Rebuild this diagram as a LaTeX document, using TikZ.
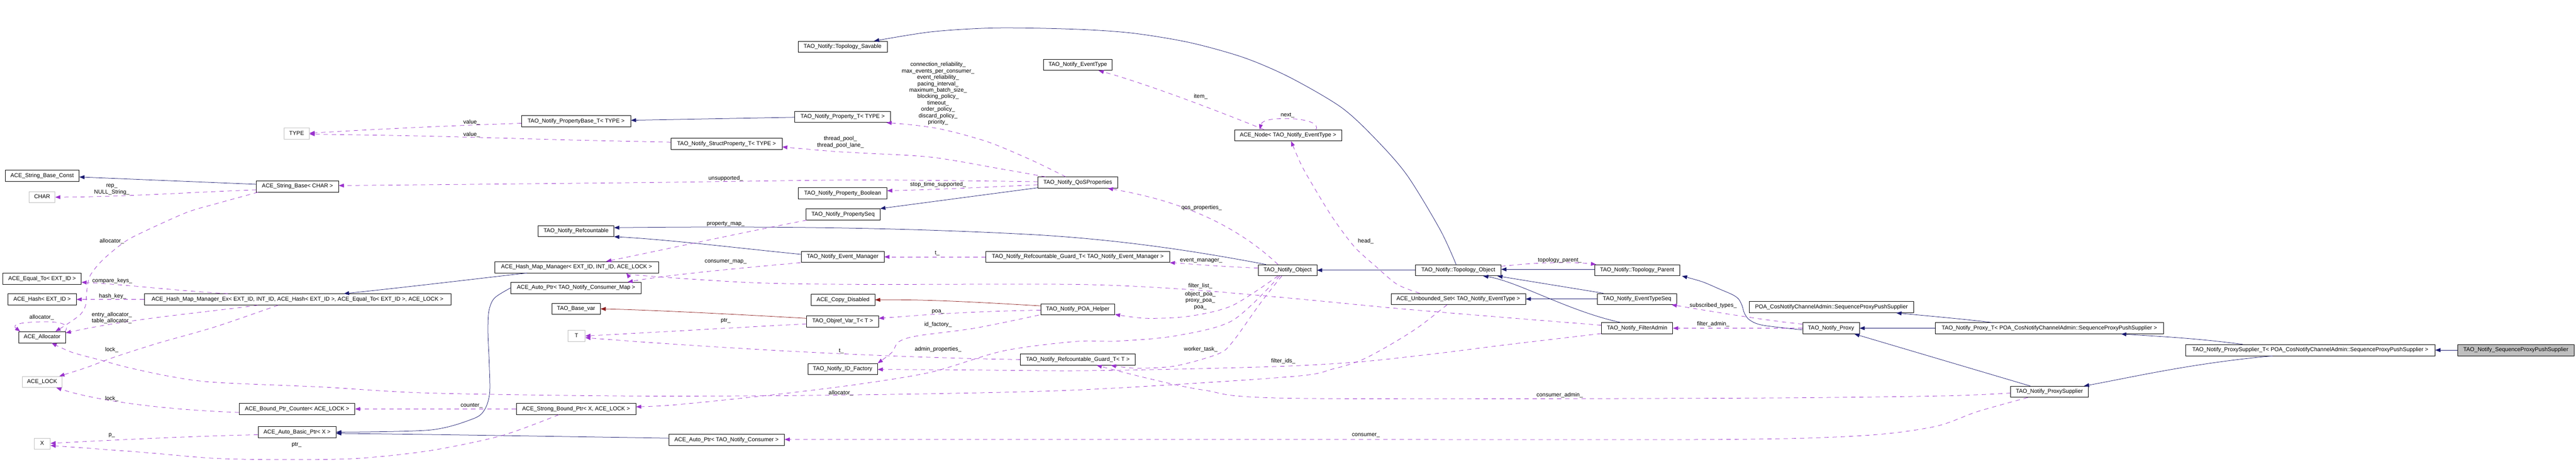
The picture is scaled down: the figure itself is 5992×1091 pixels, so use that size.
\documentclass[tikz,border=0pt]{standalone}
\usepackage{fontspec}
\setmainfont{Liberation Sans}
\usetikzlibrary{arrows.meta,calc}
\definecolor{inhc}{HTML}{191970}
\definecolor{prc}{HTML}{8B1A1A}
\definecolor{usec}{HTML}{9A32CD}
\definecolor{grayb}{HTML}{BFBFBF}
\begin{document}
\begin{tikzpicture}[x=1pt,y=-1pt,
  font=\fontsize{13.1}{14.9}\selectfont,
  cls/.style={draw=black, line width=0.9pt, minimum height=26pt, inner sep=0pt, text height=9.5pt, text depth=3pt},
  extcls/.style={cls, draw=grayb},
  maincls/.style={cls, fill=grayb},
  inh/.style={draw=inhc, line width=0.9pt, -{Triangle[length=12pt,width=9pt]}},
  prot/.style={draw=prc, line width=0.9pt, -{Triangle[length=12pt,width=9pt]}},
  usage/.style={draw=usec, line width=0.9pt, dash pattern=on 10pt off 9pt, -{Triangle[length=12pt,width=9pt]}},
  lbl/.style={inner sep=0pt, align=center}]
\fill[white] (0,0) rectangle (5992,1091);
% ---------- nodes ----------
\node[cls, minimum width=172pt] (strbc) at (98,409) {ACE\_String\_Base\_Const};
\node[extcls, minimum width=60pt] (charn) at (98,459) {CHAR};
\node[cls, minimum width=182pt] (eqto) at (98,649) {ACE\_Equal\_To< EXT\_ID >};
\node[cls, minimum width=159pt] (hash) at (98,697) {ACE\_Hash< EXT\_ID >};
\node[cls, minimum width=109pt] (alloc) at (98,785) {ACE\_Allocator};
\node[extcls, minimum width=93pt] (lock) at (98,889) {ACE\_LOCK};
\node[extcls, minimum width=38pt] (xn) at (98,1033) {X};
\node[cls, minimum width=713pt] (hmmex) at (692,697) {ACE\_Hash\_Map\_Manager\_Ex< EXT\_ID, INT\_ID, ACE\_Hash< EXT\_ID >, ACE\_Equal\_To< EXT\_ID >, ACE\_LOCK >};
\node[extcls, minimum width=59pt] (typen) at (690,311) {TYPE};
\node[cls, minimum width=191pt] (strb) at (692,434) {ACE\_String\_Base< CHAR >};
\node[cls, minimum width=269pt] (bpc) at (691,952) {ACE\_Bound\_Ptr\_Counter< ACE\_LOCK >};
\node[cls, minimum width=181pt] (abp) at (691,1006) {ACE\_Auto\_Basic\_Ptr< X >};
\node[cls, minimum width=254pt] (pbase) at (1340,282) {TAO\_Notify\_PropertyBase\_T< TYPE >};
\node[cls, minimum width=176pt] (refc) at (1340,538) {TAO\_Notify\_Refcountable};
\node[cls, minimum width=381pt] (hmm) at (1341,622) {ACE\_Hash\_Map\_Manager< EXT\_ID, INT\_ID, ACE\_LOCK >};
\node[cls, minimum width=303pt] (apcm) at (1340,670) {ACE\_Auto\_Ptr< TAO\_Notify\_Consumer\_Map >};
\node[cls, minimum width=113pt] (basevar) at (1340,719) {TAO\_Base\_var};
\node[extcls, minimum width=40pt] (tn) at (1341,782) {T};
\node[cls, minimum width=278pt] (sbp) at (1340,952) {ACE\_Strong\_Bound\_Ptr< X, ACE\_LOCK >};
\node[cls, minimum width=207pt] (savable) at (1960,109) {TAO\_Notify::Topology\_Savable};
\node[cls, minimum width=223pt] (propt) at (1960,272) {TAO\_Notify\_Property\_T< TYPE >};
\node[cls, minimum width=258pt] (structp) at (1690,335) {TAO\_Notify\_StructProperty\_T< TYPE >};
\node[cls, minimum width=206pt] (propbool) at (1960,450) {TAO\_Notify\_Property\_Boolean};
\node[cls, minimum width=172pt] (propseq) at (1961,499) {TAO\_Notify\_PropertySeq};
\node[cls, minimum width=193pt] (evmgr) at (1960,598) {TAO\_Notify\_Event\_Manager};
\node[cls, minimum width=148pt] (copyd) at (1961,698) {ACE\_Copy\_Disabled};
\node[cls, minimum width=167pt] (objref) at (1960,748) {TAO\_Objref\_Var\_T< T >};
\node[cls, minimum width=162pt] (idfac) at (1960,859) {TAO\_Notify\_ID\_Factory};
\node[cls, minimum width=269pt] (apc) at (1690,1024) {ACE\_Auto\_Ptr< TAO\_Notify\_Consumer >};
\node[cls, minimum width=160pt] (evtype) at (2507,151) {TAO\_Notify\_EventType};
\node[cls, minimum width=185pt] (qos) at (2507,425) {TAO\_Notify\_QoSProperties};
\node[cls, minimum width=427pt] (guardem) at (2507,598) {TAO\_Notify\_Refcountable\_Guard\_T< TAO\_Notify\_Event\_Manager >};
\node[cls, minimum width=172pt] (poah) at (2507,720) {TAO\_Notify\_POA\_Helper};
\node[cls, minimum width=267pt] (guardt) at (2507,837) {TAO\_Notify\_Refcountable\_Guard\_T< T >};
\node[cls, minimum width=249pt] (node) at (2996,315) {ACE\_Node< TAO\_Notify\_EventType >};
\node[cls, minimum width=136pt] (obj) at (2995,629) {TAO\_Notify\_Object};
\node[cls, minimum width=199pt] (topobj) at (3392,629) {TAO\_Notify::Topology\_Object};
\node[cls, minimum width=313pt] (uset) at (3392,696) {ACE\_Unbounded\_Set< TAO\_Notify\_EventType >};
\node[cls, minimum width=198pt] (toppar) at (3808,629) {TAO\_Notify::Topology\_Parent};
\node[cls, minimum width=184pt] (etseq) at (3808,696) {TAO\_Notify\_EventTypeSeq};
\node[cls, minimum width=166pt] (fadmin) at (3808,764) {TAO\_Notify\_FilterAdmin};
\node[cls, minimum width=383pt] (poasps) at (4260,715) {POA\_CosNotifyChannelAdmin::SequenceProxyPushSupplier};
\node[cls, minimum width=132pt] (proxy) at (4259,764) {TAO\_Notify\_Proxy};
\node[cls, minimum width=531pt] (proxyt) at (4767,764) {TAO\_Notify\_Proxy\_T< POA\_CosNotifyChannelAdmin::SequenceProxyPushSupplier >};
\node[cls, minimum width=180pt] (psup) at (4767,912) {TAO\_Notify\_ProxySupplier};
\node[cls, minimum width=580pt] (psupt) at (5374,815) {TAO\_Notify\_ProxySupplier\_T< POA\_CosNotifyChannelAdmin::SequenceProxyPushSupplier >};
\node[maincls, minimum width=271pt] (seq) at (5852,815) {TAO\_Notify\_SequenceProxyPushSupplier};
% ---------- inheritance ----------
\draw[inh] ($(strb.west)+(0,-5)$) -- ($(strbc.east)+(0,3)$);
\draw[inh] ($(propt.west)+(0,1)$) -- ($(pbase.east)+(0,-2)$);
\draw[inh] ($(hmm.south west)+(76,0)$) .. controls (1100,650) and (950,668) .. ($(hmmex.north)+(108,0)$);
\draw[inh] ($(qos.west)+(0,12)$) -- (propseq.north east);
\draw[inh] ($(obj.north west)+(18,0)$) .. controls (2850,598) and (2650,560) .. (2400,546) .. controls (2100,530) and (1800,526) .. ($(refc.east)+(0,-8)$);
\draw[inh] ($(evmgr.west)+(0,-6)$) .. controls (1720,578) and (1560,558) .. ($(refc.east)+(0,13)$);
\draw[inh] plot[smooth] coordinates {($(topobj.north)+(-5,0)$) (3350,535) (3273,408) (3200,324) (3120,250) (3000,180) (2893,134) (2767,99) (2633,77) (2500,68) (2317,65) (2167,74) ($(savable.north east)+(-31,0)$)};
\draw[inh] (topobj.west) -- (obj.east);
\draw[inh] ($(toppar.west)+(0,-2)$) -- ($(topobj.east)+(0,-2)$);
\draw[inh] ($(etseq.north west)+(14,0)$) -- ($(topobj.south east)+(-9,0)$);
\draw[inh] ($(fadmin.north west)+(45,0)$) .. controls (3650,725) and (3530,655) .. ($(topobj.south east)+(-42,0)$);
\draw[inh] (etseq.west) -- (uset.east);
\draw[inh] plot[smooth] coordinates {($(proxy.west)+(0,4)$) (4100,757) (4070,745) (4058,730) (4052,711) (4044,696) (4030,686) (4000,673) (3960,656) ($(toppar.south east)+(5,0)$)};
\draw[inh] ($(proxyt.north west)+(132,0)$) .. controls (4560,742) and (4480,735) .. ($(poasps.south east)+(-41,0)$);
\draw[inh] (proxyt.west) -- (proxy.east);
\draw[inh] ($(psup.north west)+(46,0)$) -- ($(proxy.south east)+(-12,0)$);
\draw[inh] ($(psupt.north west)+(133,0)$) .. controls (5100,786) and (5000,782) .. ($(proxyt.south east)+(-99,0)$);
\draw[inh] ($(psupt.south west)+(203,0)$) .. controls (5100,845) and (4950,880) .. ($(psup.north east)+(-10,0)$);
\draw[inh] (seq.west) -- (psupt.east);
\draw[inh] plot[smooth] coordinates {(apcm.west) (1150,694) (1137,725) (1135,775) (1138,845) (1139,915) (1127,954) (1100,975) (1000,1001) ($(abp.east)+(0,0)$)};
\draw[inh] ($(apc.west)+(0,-4)$) .. controls (1300,1016) and (1000,1011) .. ($(abp.east)+(0,3)$);
% ---------- protected inheritance ----------
\draw[prot] ($(objref.west)+(0,-7)$) .. controls (1700,731) and (1500,721) .. (basevar.east);
\draw[prot] ($(poah.west)+(0,-8)$) .. controls (2250,702) and (2150,697) .. (copyd.east);
% ---------- usage ----------
\draw[usage] ($(strb.west)+(0,8)$) .. controls (450,447) and (300,458) .. (charn.east);
\draw[usage] plot[smooth] coordinates {($(strb.south west)+(4,0)$) (500,475) (433,495) (333,540) (290,563) (240,604) (210,641) (202,676) (199,711) (187,732) (157,754) ($(alloc.north east)+(-24,0)$)};
\draw[usage] ($(hmmex.north west)+(195,0)$) .. controls (400,676) and (300,663) .. ($(eqto.east)+(0,8)$);
\draw[usage] (hmmex.west) -- (hash.east);
\draw[usage] ($(hmmex.south west)+(265,0)$) .. controls (480,727) and (300,742) .. ($(alloc.east)+(0,-10)$);
\draw[usage] plot[smooth] coordinates {($(hmmex.south west)+(312,0)$) (500,761) (367,799) (267,831) (200,856) ($(lock.north east)+(-7,0)$)};
\draw[usage] ($(alloc.north east)+(-2,0)$) .. controls (165,755) and (140,748) .. (97,749) .. controls (50,750) and (25,755) .. ($(alloc.north west)+(4,0)$);
\draw[usage] plot[smooth] coordinates {($(uset.south west)+(131,0)$) (3300,761) (3233,803) (3167,838) (3100,859) (3000,877) (2500,908) (2000,919) (1500,922) (1000,915) (750,901) (500,890) (400,877) (300,856) (233,838) (167,820) ($(alloc.south west)+(77,0)$)};
\draw[usage] plot[smooth] coordinates {($(obj.south west)+(50,0)$) (2867,746) (2733,782) (2600,794) (2500,795) (2333,817) (2167,866) (2000,894) (1833,915) (1667,933) (1550,944) ($(sbp.east)+(0,-5)$)};
\draw[usage] plot[smooth] coordinates {($(obj.south west)+(55,0)$) (2933,704) (2867,796) (2833,824) (2733,852) (2640,857) ($(guardt.south east)+(-57,0)$)};
\draw[usage] plot[smooth] coordinates {($(obj.south west)+(46,0)$) (2867,711) (2767,736) (2667,741) ($(poah.east)+(0,12)$)};
\draw[usage] plot[smooth] coordinates {($(fadmin.west)+(0,-7)$) (3500,739) (3250,718) (3000,694) (2750,673) (2500,662) (2000,662) (1750,658) (1500,642) ($(hmm.south east)+(-75,0)$)};
\draw[usage] ($(propseq.south west)+(2,0)$) .. controls (1733,540) and (1550,580) .. ($(hmm.north east)+(-122,0)$);
\draw[usage] ($(evmgr.south west)+(-1,0)$) .. controls (1733,623) and (1550,640) .. ($(apcm.north east)+(-32,0)$);
\draw[usage] ($(objref.west)+(0,6)$) .. controls (1700,763) and (1500,775) .. (tn.east);
\draw[usage] (guardt.west) .. controls (2000,831) and (1600,805) .. ($(tn.east)+(0,4)$);
\draw[usage] (guardem.west) -- (evmgr.east);
\draw[usage] ($(poah.west)+(0,2)$) .. controls (2250,725) and (2150,733) .. ($(objref.east)+(0,-7)$);
\draw[usage] plot[smooth] coordinates {($(poah.south west)+(-4,0)$) (2267,764) (2133,782) (2090,796) (2075,820) (idfac.north east)};
\draw[usage] plot[smooth] coordinates {($(fadmin.south west)+(0,-1)$) (3500,803) (3333,824) (3167,842) (3000,852) (2750,859) (2500,863) (2233,861) ($(idfac.east)+(0,1)$)};
\draw[usage] (sbp.west) -- (bpc.east);
\draw[usage] ($(bpc.west)+(0,8)$) .. controls (400,955) and (230,935) .. ($(lock.south east)+(-14,0)$);
\draw[usage] ($(abp.west)+(0,6)$) .. controls (450,1015) and (250,1025) .. ($(xn.east)+(0,-1)$);
\draw[usage] plot[smooth] coordinates {($(sbp.south west)+(99,0)$) (1167,1014) (1000,1049) (833,1067) (667,1070) (500,1067) (333,1053) ($(xn.east)+(0,4)$)};
\draw[usage] plot[smooth] coordinates {($(psup.south west)+(40,0)$) (4600,958) (4500,993) (4333,1014) (4000,1023) (3000,1023) ($(apc.east)+(0,-1)$)};
\draw[usage] plot[smooth] coordinates {($(psup.west)+(0,3)$) (4500,922) (4000,927) (3000,927) (2800,908) (2667,880) ($(guardt.south east)+(-90,0)$)};
\draw[usage] ($(proxy.north west)+(0,4)$) .. controls (4100,745) and (4000,728) .. ($(etseq.south east)+(-12,0)$);
\draw[usage] (proxy.west) -- (fadmin.east);
\draw[usage] ($(topobj.east)+(0,-9)$) .. controls (3560,612) and (3650,608) .. ($(toppar.north west)+(4,0)$);
\draw[usage] plot[smooth] coordinates {($(uset.north west)+(67,0)$) (3250,662) (3200,620) (3150,574) (3100,507) (3057,437) (3027,384) ($(node.south)+(7,0)$)};
\draw[usage] ($(node.north west)+(69,0)$) .. controls (2800,245) and (2650,190) .. ($(evtype.south east)+(-32,0)$);
\draw[usage] ($(node.north east)+(-60,0)$) .. controls (3070,288) and (3040,276) .. (2990,276) .. controls (2950,276) and (2935,282) .. ($(node.north west)+(59,0)$);
\draw[usage] ($(obj.north west)+(46,0)$) .. controls (2850,500) and (2700,460) .. ($(qos.south east)+(-23,0)$);
\draw[usage] ($(obj.west)+(0,-5)$) .. controls (2830,620) and (2750,613) .. (guardem.south east);
\draw[usage] plot[smooth] coordinates {($(qos.north west)+(18,0)$) (2333,394) (2167,366) (2000,356) (1933,352) ($(structp.east)+(0,7)$)};
\draw[usage] plot[smooth] coordinates {($(qos.north west)+(65,0)$) (2400,373) (2300,331) (2200,303) (2133,292) ($(propt.south east)+(-10,0)$)};
\draw[usage] plot[smooth] coordinates {($(qos.west)+(0,-2)$) (2000,419) (1500,425) (1000,430) ($(strb.east)+(0,-2)$)};
\draw[usage] ($(qos.west)+(0,5)$) .. controls (2250,438) and (2150,442) .. ($(propbool.east)+(0,-6)$);
\draw[usage] ($(pbase.west)+(0,5)$) .. controls (1000,294) and (800,305) .. ($(typen.east)+(0,-1)$);
\draw[usage] plot[smooth] coordinates {($(structp.west)+(0,-4)$) (1333,326) (1000,317) (767,313) ($(typen.east)+(0,1)$)};
% ---------- labels ----------
\node[lbl] (l1) at (260,441) {rep\_\\NULL\_String\_};
\node[lbl] (l2) at (260,562) {allocator\_};
\node[lbl] (l3) at (261,654) {compare\_keys\_};
\node[lbl] (l4) at (262,690) {hash\_key\_};
\node[lbl] (l5) at (97,739) {allocator\_};
\node[lbl] (l6) at (260,740) {entry\_allocator\_\\table\_allocator\_};
\node[lbl] (l7) at (260,815) {lock\_};
\node[lbl] (l8) at (260,928) {lock\_};
\node[lbl] (l9) at (260,1014) {p\_};
\node[lbl] (l10) at (690,1036) {ptr\_};
\node[lbl] (l11) at (1097,285) {value\_};
\node[lbl] (l12) at (1097,313) {value\_};
\node[lbl] (l13) at (1097,944) {counter\_};
\node[lbl] (l14) at (1955,331) {thread\_pool\_\\thread\_pool\_lane\_};
\node[lbl] (l15) at (1688,415) {unsupported\_};
\node[lbl] (l16) at (1688,522) {property\_map\_};
\node[lbl] (l17) at (1688,610) {consumer\_map\_};
\node[lbl] (l18) at (1688,747) {ptr\_};
\node[lbl] (l19) at (1957,817) {t\_};
\node[lbl] (l20) at (1956,915) {allocator\_};
\node[lbl] (l21) at (2182,218) {connection\_reliability\_\\max\_events\_per\_consumer\_\\event\_reliability\_\\pacing\_interval\_\\maximum\_batch\_size\_\\blocking\_policy\_\\timeout\_\\order\_policy\_\\discard\_policy\_\\priority\_};
\node[lbl] (l22) at (2182,430) {stop\_time\_supported\_};
\node[lbl] (l23) at (2180,590) {t\_};
\node[lbl] (l24) at (2182,726) {poa\_};
\node[lbl] (l25) at (2182,756) {id\_factory\_};
\node[lbl] (l26) at (2182,813) {admin\_properties\_};
\node[lbl] (l27) at (2793,225) {item\_};
\node[lbl] (l28) at (2995,269) {next\_};
\node[lbl] (l29) at (2795,484) {qos\_properties\_};
\node[lbl] (l30) at (2794,606) {event\_manager\_};
\node[lbl] (l31) at (2792,666) {filter\_list\_};
\node[lbl] (l32) at (2792,700) {object\_poa\_\\proxy\_poa\_\\poa\_};
\node[lbl] (l33) at (2793,813) {worker\_task\_};
\node[lbl] (l34) at (2985,841) {filter\_ids\_};
\node[lbl] (l35) at (3177,561) {head\_};
\node[lbl] (l36) at (3177,1014) {consumer\_};
\node[lbl] (l37) at (3628,606) {topology\_parent\_};
\node[lbl] (l38) at (3628,920) {consumer\_admin\_};
\node[lbl] (l39) at (3985,712) {subscribed\_types\_};
\node[lbl] (l40) at (3985,755) {filter\_admin\_};
\end{tikzpicture}
\end{document}
